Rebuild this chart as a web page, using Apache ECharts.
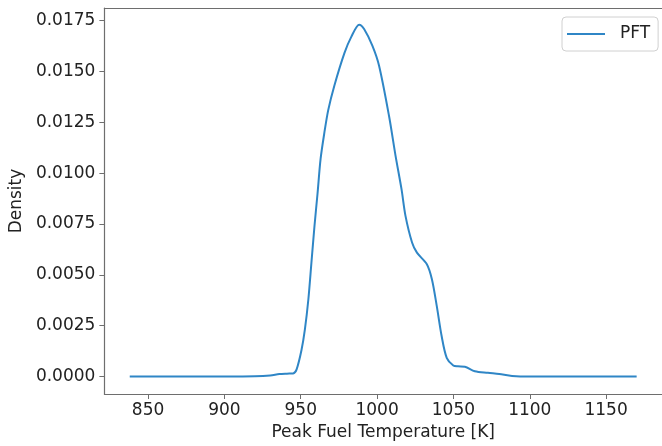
<!DOCTYPE html>
<html>
<head>
<meta charset="utf-8">
<script src="https://cdn.jsdelivr.net/npm/echarts@6/dist/echarts.min.js"></script>
<style>
html,body{margin:0;padding:0;background:#fff;}
#chart{width:662px;height:446px;}
</style>
</head>
<body>
<div id="chart"></div>
<script>
// Data
const seriesName = 'PFT';
const temperatures = [838, 860, 880, 900, 920, 930, 936, 941, 945, 947.3, 950.5, 952.7, 955, 957, 959, 961, 963, 965.5, 968, 972, 978.6, 983.1, 988.3, 991.5, 996.9, 1001.3, 1007.8, 1012.1, 1016.0, 1018.6, 1022.9, 1026.1, 1032.6, 1035.9, 1039.1, 1042.3, 1045.6, 1049.9, 1053, 1057.5, 1064.0, 1072.6, 1080, 1088.4, 1100, 1130, 1170];
const densities = [0, 0, 0, 0, 0.00001, 0.00005, 0.00012, 0.00014, 0.00015, 0.00035, 0.0013, 0.0023, 0.0038, 0.0056, 0.0074, 0.0090, 0.0107, 0.0120, 0.0131, 0.0143, 0.0159, 0.0167, 0.01730, 0.01709, 0.01627, 0.01528, 0.01282, 0.01085, 0.00921, 0.00790, 0.00659, 0.00609, 0.00552, 0.00478, 0.00346, 0.00198, 0.00092, 0.00054, 0.00050, 0.00048, 0.00026, 0.00018, 0.00012, 0.00003, 0, 0, 0];
const xTicks = [850, 900, 950, 1000, 1050, 1100, 1150];
const yTicks = [0, 0.0025, 0.005, 0.0075, 0.01, 0.0125, 0.015, 0.0175];

const font = 'DejaVu Sans';
const axisColor = '#6e6e6e';
const chart = echarts.init(document.getElementById('chart'), null, {renderer: 'canvas'});
const data = temperatures.map((t, i) => [t, densities[i]]);

chart.setOption({
  animation: false,
  backgroundColor: '#fff',
  grid: {left: 103, top: 8, right: -4, bottom: 52, containLabel: false},
  legend: {
    left: 562, top: 17,
    padding: [8, 8, 8, 5],
    icon: 'rect',
    itemWidth: 38, itemHeight: 2,
    borderColor: '#d0d0d0', borderWidth: 1, borderRadius: 4,
    textStyle: {fontFamily: font, fontSize: 17, color: '#222', padding: [0, 0, 0, 10], lineHeight: 18},
    data: [seriesName]
  },
  xAxis: [{
    type: 'value',
    min: 821.4, max: 1186.6,
    name: 'Peak Fuel Temperature [K]',
    nameLocation: 'middle', nameGap: 28,
    nameTextStyle: {fontFamily: font, fontSize: 17, color: '#222'},
    axisLine: {show: true, onZero: false, lineStyle: {color: axisColor, width: 1.2}},
    axisTick: {show: true, length: 5, lineStyle: {color: axisColor}, customValues: xTicks},
    axisLabel: {fontFamily: font, fontSize: 17, color: '#222', margin: 8, customValues: xTicks,
      formatter: v => String(v)},
    splitLine: {show: false}
  }, {
    type: 'value',
    position: 'top',
    min: 821.4, max: 1186.6,
    axisLine: {show: true, onZero: false, lineStyle: {color: axisColor, width: 1.2}},
    axisTick: {show: false},
    axisLabel: {show: false},
    splitLine: {show: false}
  }],
  yAxis: {
    type: 'value',
    min: -0.00086, max: 0.01812,
    name: 'Density',
    nameLocation: 'middle', nameGap: 75,
    nameTextStyle: {fontFamily: font, fontSize: 17, color: '#222'},
    axisLine: {show: true, onZero: false, lineStyle: {color: axisColor, width: 1.2}},
    axisTick: {show: true, length: 5, lineStyle: {color: axisColor}, customValues: yTicks},
    axisLabel: {fontFamily: font, fontSize: 17, color: '#222', margin: 9, customValues: yTicks,
      formatter: v => v.toFixed(4)},
    splitLine: {show: false}
  },
  series: [{
    name: seriesName,
    type: 'line',
    xAxisIndex: 0,
    data: data,
    smooth: 0.3,
    symbol: 'none',
    lineStyle: {color: '#2f86c6', width: 2},
    itemStyle: {color: '#2f86c6'}
  }]
});
</script>
</body>
</html>
